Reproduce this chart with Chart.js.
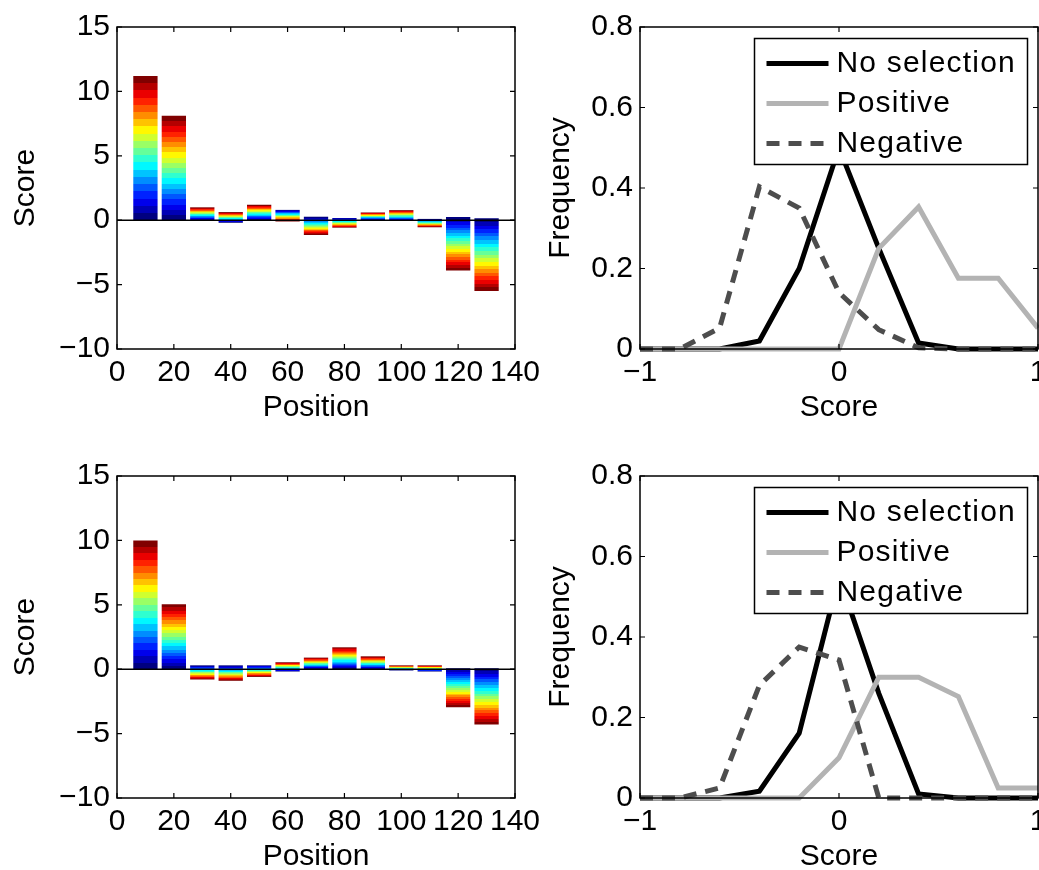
<!DOCTYPE html>
<html>
<head>
<meta charset="utf-8">
<script src="https://cdn.jsdelivr.net/npm/chart.js@4.4.1/dist/chart.umd.min.js"></script>
<style>
  html, body { margin: 0; padding: 0; background: #fff; overflow: hidden; width: 1039px; height: 870px; }
  canvas { position: absolute; }
</style>
</head>
<body>
<canvas id="barTop" width="560" height="440" style="left:0;top:0"></canvas>
<canvas id="distTop" width="540" height="440" style="left:540px;top:0"></canvas>
<canvas id="barBottom" width="560" height="440" style="left:0;top:449px"></canvas>
<canvas id="distBottom" width="540" height="440" style="left:540px;top:449px"></canvas>
<script>
// bar positions (left panels)
const positions = [10, 20, 30, 40, 50, 60, 70, 80, 90, 100, 110, 120, 130];
// each stacked bar runs from its first segment (blue) to its last one (dark red)
const topBarFrom = [0, 0, 0, -0.2, 0, 0.8, 0.27, 0.17, 0, -0.05, 0.1, 0.25, 0.15];
const topBarTo = [11.2, 8.1, 1.0, 0.63, 1.2, -0.1, -1.15, -0.58, 0.6, 0.78, -0.55, -3.9, -5.5];
const bottomBarFrom = [0, 0, 0.3, 0.3, 0.3, -0.18, 0, 0, 0, -0.1, -0.18, 0.08, 0.08];
const bottomBarTo = [10.0, 5.05, -0.8, -0.9, -0.6, 0.54, 0.9, 1.7, 1.0, 0.3, 0.3, -2.95, -4.3];

// score distributions (right panels)
const scoreBins = [-1, -0.8, -0.6, -0.4, -0.2, 0, 0.2, 0.4, 0.6, 0.8, 1];
const topNoSelection = [0, 0, 0, 0.02, 0.2, 0.5, 0.25, 0.015, 0, 0, 0];
const topPositive = [0, 0, 0, 0, 0, 0, 0.25, 0.353, 0.176, 0.176, 0.052];
const topNegative = [0, 0, 0.052, 0.403, 0.35, 0.14, 0.048, 0.003, 0, 0, 0];
const bottomNoSelection = [0, 0, 0, 0.017, 0.161, 0.55, 0.26, 0.01, 0, 0, 0];
const bottomPositive = [0, 0, 0, 0, 0, 0.1, 0.3, 0.3, 0.252, 0.025, 0.025];
const bottomNegative = [0, 0, 0.025, 0.28, 0.375, 0.343, 0, 0, 0, 0, 0];

const seriesLabels = ['No selection', 'Positive', 'Negative'];

const FONT_FAMILY = "'Liberation Sans', Arial, Helvetica, sans-serif";
const FONT_SIZE = 30;
Chart.defaults.font.family = FONT_FAMILY;
Chart.defaults.font.size = FONT_SIZE;
Chart.defaults.color = '#000';

const minus = v => String(v).replace('-', '\u2212');

function jetColor(t) {
  const f = v => Math.round(255 * Math.min(1, Math.max(0, v)));
  return 'rgb(' + f(1.5 - Math.abs(4 * t - 3)) + ',' + f(1.5 - Math.abs(4 * t - 2)) + ',' + f(1.5 - Math.abs(4 * t - 1)) + ')';
}

const BANDS = 20;
function jetFill(c, from, to) {
  const chart = c.chart;
  const y = chart.scales.y;
  if (!chart.chartArea || !y || c.dataIndex === undefined) return jetColor(1);
  const y0 = y.getPixelForValue(from[c.dataIndex]);
  const y1 = y.getPixelForValue(to[c.dataIndex]);
  if (!isFinite(y0) || !isFinite(y1) || Math.abs(y1 - y0) < 0.5) return jetColor(1);
  const g = chart.ctx.createLinearGradient(0, y0, 0, y1);
  for (let k = 0; k < BANDS; k++) {
    const col = jetColor(k / (BANDS - 1));
    g.addColorStop(k / BANDS, col);
    g.addColorStop((k + 1) / BANDS, col);
  }
  return g;
}

// matlab style box with inward ticks on all four sides
const frame = {
  id: 'frame',
  afterDatasetsDraw(chart, args, opts) {
    const { ctx, chartArea: a } = chart;
    const x = chart.scales.x, y = chart.scales.y;
    ctx.save();
    ctx.strokeStyle = '#000';
    ctx.lineWidth = 1.5;
    if (opts.zeroLine) {
      const y0 = y.getPixelForValue(0);
      ctx.beginPath();
      ctx.moveTo(a.left, y0);
      ctx.lineTo(a.right, y0);
      ctx.stroke();
    }
    ctx.strokeRect(a.left, a.top, a.right - a.left, a.bottom - a.top);
    ctx.lineWidth = 1.2;
    const len = 5;
    ctx.beginPath();
    x.ticks.forEach(t => {
      const px = x.getPixelForValue(t.value);
      ctx.moveTo(px, a.bottom); ctx.lineTo(px, a.bottom - len);
      ctx.moveTo(px, a.top); ctx.lineTo(px, a.top + len);
    });
    y.ticks.forEach(t => {
      const py = y.getPixelForValue(t.value);
      ctx.moveTo(a.left, py); ctx.lineTo(a.left + len, py);
      ctx.moveTo(a.right, py); ctx.lineTo(a.right - len, py);
    });
    ctx.stroke();
    ctx.restore();
  }
};

// boxed legend drawn over the lines, top right of the plot area
const boxLegend = {
  id: 'boxLegend',
  afterDatasetsDraw(chart) {
    const { ctx, chartArea: a } = chart;
    const sets = chart.data.datasets;
    ctx.save();
    ctx.font = FONT_SIZE + 'px ' + FONT_FAMILY;
    ctx.letterSpacing = '1.2px';
    const textW = Math.max(...sets.map(d => ctx.measureText(d.label).width));
    const padL = 12, sample = 62, gap = 8, rowH = 40;
    const w = Math.max(273, padL + sample + gap + textW + 10);
    const h = rowH * sets.length + 6;
    const x0 = a.right - 10.5 - w;
    const y0 = a.top + 11.5;
    ctx.fillStyle = '#fff';
    ctx.fillRect(x0, y0, w, h);
    ctx.strokeStyle = '#000';
    ctx.lineWidth = 1.5;
    ctx.strokeRect(x0, y0, w, h);
    sets.forEach((d, i) => {
      const cy = y0 + 25 + rowH * i;
      ctx.save();
      ctx.strokeStyle = d.borderColor;
      ctx.lineWidth = d.borderWidth;
      ctx.setLineDash(d.borderDash || []);
      ctx.beginPath();
      ctx.moveTo(x0 + padL, cy);
      ctx.lineTo(x0 + padL + sample, cy);
      ctx.stroke();
      ctx.restore();
      ctx.fillStyle = '#000';
      ctx.textBaseline = 'middle';
      ctx.textAlign = 'left';
      ctx.fillText(d.label, x0 + padL + sample + gap, cy);
    });
    ctx.restore();
  }
};

function barChart(id, from, to) {
  return new Chart(document.getElementById(id), {
    type: 'bar',
    data: {
      datasets: [{
        data: positions.map((p, i) => ({ x: p, y: [from[i], to[i]] })),
        backgroundColor: c => jetFill(c, from, to),
        borderWidth: 0,
        categoryPercentage: 1,
        barPercentage: 0.855
      }]
    },
    options: {
      responsive: false,
      animation: false,
      layout: { padding: { top: 27, right: 45, left: 0, bottom: 0 } },
      plugins: { legend: { display: false }, tooltip: { enabled: false }, frame: { zeroLine: true } },
      scales: {
        x: {
          type: 'linear', min: 0, max: 140, offset: false,
          grid: { display: false, drawTicks: false },
          border: { display: false },
          ticks: { stepSize: 20, autoSkip: false, maxRotation: 0, padding: 6 },
          title: { display: true, text: 'Position', padding: { top: 0, bottom: 14 } },
          afterFit: s => { s.height = 91; }
        },
        y: {
          min: -10, max: 15,
          grid: { display: false, drawTicks: false },
          border: { display: false },
          ticks: { stepSize: 5, padding: 7, callback: v => minus(v) },
          title: { display: true, text: 'Score', padding: { top: 8, bottom: 0 } },
          afterFit: s => { s.width = 117; }
        }
      }
    },
    plugins: [frame]
  });
}

function distChart(id, noSel, pos, neg) {
  const line = (label, data, color, dash, order) => ({
    label,
    data: scoreBins.map((x, i) => ({ x, y: data[i] })),
    borderColor: color,
    borderWidth: 5,
    borderDash: dash,
    borderCapStyle: 'butt',
    borderJoinStyle: 'miter',
    pointRadius: 0,
    tension: 0,
    fill: false,
    clip: 8,
    order
  });
  return new Chart(document.getElementById(id), {
    type: 'line',
    data: {
      datasets: [
        line(seriesLabels[0], noSel, '#000000', [], 3),
        line(seriesLabels[1], pos, '#b3b3b3', [], 2),
        line(seriesLabels[2], neg, '#4d4d4d', [13, 9], 1)
      ]
    },
    options: {
      responsive: false,
      animation: false,
      layout: { padding: { top: 27, right: 42, left: 0, bottom: 0 } },
      plugins: { legend: { display: false }, tooltip: { enabled: false }, frame: { zeroLine: false } },
      scales: {
        x: {
          type: 'linear', min: -1, max: 1,
          grid: { display: false, drawTicks: false },
          border: { display: false },
          ticks: { stepSize: 1, autoSkip: false, maxRotation: 0, padding: 6, callback: v => minus(v) },
          title: { display: true, text: 'Score', padding: { top: 0, bottom: 14 } },
          afterFit: s => { s.height = 91; }
        },
        y: {
          min: 0, max: 0.8,
          grid: { display: false, drawTicks: false },
          border: { display: false },
          ticks: { stepSize: 0.2, padding: 7, callback: v => String(Number(v.toFixed(1))) },
          title: { display: true, text: 'Frequency', padding: { top: 3, bottom: 0 } },
          afterFit: s => { s.width = 100; }
        }
      }
    },
    plugins: [frame, boxLegend]
  });
}

barChart('barTop', topBarFrom, topBarTo);
barChart('barBottom', bottomBarFrom, bottomBarTo);
distChart('distTop', topNoSelection, topPositive, topNegative);
distChart('distBottom', bottomNoSelection, bottomPositive, bottomNegative);
</script>
</body>
</html>
